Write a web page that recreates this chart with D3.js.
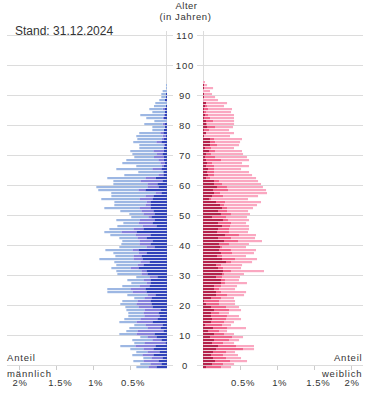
<!DOCTYPE html>
<html><head><meta charset="utf-8">
<script src="https://cdn.jsdelivr.net/npm/d3@7"></script>
<style>
html,body{margin:0;padding:0;background:#fff;}
svg{display:block;font-family:"Liberation Sans",Arial,sans-serif;}
</style></head><body>
<svg id="c" width="375" height="416"></svg>
<script>
const ageTicks = [0,10,20,30,40,50,60,70,80,90,100,110];
const pctTicks = [0.5,1,1.5,2];
const pctLabels = ["0.5%","1%","1.5%","2%"];

const maleDark = [0.144,0.077,0.117,0.063,0.185,0.104,0.185,0.158,0.023,0.077,
0.144,0.171,0.050,0.090,0.063,0.198,0.131,0.104,0.117,0.090,
0.198,0.212,0.225,0.212,0.158,0.279,0.293,0.239,0.225,0.225,
0.131,0.266,0.279,0.387,0.320,0.239,0.333,0.347,0.279,0.387,
0.171,0.225,0.198,0.279,0.225,0.414,0.320,0.144,0.198,0.171,
0.212,0.171,0.185,0.225,0.225,0.225,0.198,0.185,0.077,0.293,
0.117,0.131,0.063,0.149,0.050,0.050,0.077,0.041,0.027,0.041,
0.041,0.063,0.041,0.045,0.027,0.077,0.041,0.014,0.050,0.045,
0.027,0.027,0.000,0.041,0.027,0.027,0.027,0.014,0.000,0.027,
0.014,0.014,0.000,0.000,0.000,0.000];
const maleMid = [0.108,0.149,0.203,0.149,0.149,0.162,0.135,0.270,0.284,0.122,
0.122,0.243,0.351,0.176,0.230,0.216,0.230,0.203,0.203,0.216,
0.189,0.203,0.176,0.095,0.108,0.189,0.203,0.135,0.054,0.095,
0.108,0.081,0.068,0.108,0.081,0.122,0.122,0.108,0.108,0.081,
0.108,0.149,0.176,0.122,0.203,0.203,0.135,0.189,0.189,0.203,
0.041,0.149,0.162,0.149,0.068,0.054,0.176,0.108,0.081,0.095,
0.149,0.135,0.297,0.144,0.068,0.000,0.122,0.027,0.063,0.077,
0.135,0.081,0.144,0.000,0.023,0.068,0.027,0.045,0.041,0.000,
0.000,0.032,0.000,0.018,0.014,0.000,0.032,0.000,0.000,0.000,
0,0,0,0,0,0];
const maleLight = [0.162,0.135,0.135,0.108,0.135,0.149,0.176,0.203,0.135,0.270,
0.095,0.230,0.149,0.243,0.149,0.230,0.216,0.216,0.203,0.243,
0.176,0.216,0.203,0.135,0.270,0.338,0.311,0.230,0.203,0.216,
0.176,0.324,0.338,0.257,0.284,0.351,0.459,0.243,0.338,0.365,
0.365,0.243,0.230,0.243,0.338,0.230,0.324,0.338,0.203,0.311,
0.230,0.189,0.284,0.473,0.419,0.432,0.514,0.459,0.595,0.541,
0.689,0.459,0.365,0.514,0.459,0.338,0.486,0.347,0.514,0.432,
0.266,0.324,0.311,0.329,0.324,0.311,0.333,0.356,0.284,0.153,
0.171,0.248,0.171,0.221,0.320,0.171,0.180,0.162,0.158,0.077,
0.063,0.063,0.059,0.014,0.014,0];

const femDark = [0.041,0.122,0.162,0.135,0.108,0.135,0.176,0.203,0.122,0.149,
0.095,0.149,0.068,0.135,0.027,0.108,0.122,0.108,0.108,0.149,
0.108,0.041,0.014,0.108,0.176,0.176,0.149,0.149,0.243,0.243,
0.176,0.257,0.270,0.203,0.176,0.311,0.257,0.189,0.243,0.216,
0.230,0.216,0.284,0.203,0.297,0.189,0.203,0.257,0.203,0.270,
0.122,0.243,0.203,0.257,0.230,0.176,0.081,0.122,0.149,0.135,
0.189,0.149,0.149,0.041,0.068,0.054,0.068,0.041,0.054,0.041,
0.027,0.041,0.081,0.027,0.095,0.095,0.095,0.014,0.041,0.014,
0.054,0.041,0.041,0.014,0.027,0.014,0.014,0.027,0.041,0.005,
0.014,0.014,0.000,0.014,0.014,0.000];
const femMid = [0.203,0.149,0.203,0.176,0.162,0.176,0.365,0.243,0.149,0.203,
0.297,0.135,0.149,0.189,0.230,0.176,0.189,0.216,0.108,0.203,
0.203,0.176,0.203,0.135,0.149,0.068,0.068,0.095,0.054,0.054,
0.081,0.027,0.108,0.068,0.068,0.068,0.176,0.068,0.149,0.162,
0.027,0.135,0.189,0.176,0.189,0.162,0.149,0.108,0.176,0.068,
0.189,0.135,0.122,0.068,0.054,0.122,0.027,0.149,0.081,0.203,
0.135,0.108,0.068,0.054,0.081,0.095,0.081,0.108,0.068,0.203,
0.135,0.068,0.081,0.081,0.095,0.068,0.054,0.000,0.000,0.068,
0.108,0.014,0.095,0.081,0.041,0.027,0.054,0.027,0.000,0.000,
0,0,0,0,0,0];
const femLight = [0.135,0.149,0.230,0.203,0.203,0.122,0.149,0.243,0.149,0.135,
0.149,0.135,0.108,0.257,0.122,0.135,0.203,0.162,0.135,0.162,
0.176,0.216,0.216,0.176,0.230,0.338,0.216,0.216,0.297,0.189,
0.243,0.270,0.446,0.243,0.284,0.284,0.297,0.324,0.297,0.338,
0.324,0.270,0.324,0.324,0.230,0.257,0.270,0.257,0.203,0.284,
0.284,0.257,0.284,0.351,0.446,0.486,0.500,0.473,0.635,0.514,
0.486,0.527,0.527,0.622,0.514,0.473,0.365,0.473,0.405,0.378,
0.432,0.432,0.365,0.311,0.297,0.338,0.378,0.351,0.378,0.270,
0.243,0.365,0.284,0.324,0.351,0.338,0.324,0.230,0.284,0.198,
0.149,0.108,0.095,0.122,0.041,0.027];

const ages = d3.range(maleDark.length);
const maleColors = ["#3142b9","#8781dc","#9db7e3"];
const femColors = ["#b5234c","#f0648b","#faa8c1"];
const labelShift = [3, 2.6, 4.2, 1];

const svg = d3.select("#c");
const y = d3.scaleLinear().domain([0,110]).range([366,36]);
const xM = d3.scaleLinear().domain([0,2]).range([167,19]);
const xF = d3.scaleLinear().domain([0,2]).range([203,351]);
const grid = "#dcdcdc";
const txt = "#333";

const g = svg.append("g");
ageTicks.forEach(a=>{
  const yy = Math.round(y(a))-0.5;
  g.append("line").attr("x1",7).attr("x2",173).attr("y1",yy).attr("y2",yy).attr("stroke",grid);
  g.append("line").attr("x1",197).attr("x2",363).attr("y1",yy).attr("y2",yy).attr("stroke",grid);
});
g.append("line").attr("x1",166.5).attr("x2",166.5).attr("y1",31).attr("y2",366).attr("stroke",grid);
g.append("line").attr("x1",203.5).attr("x2",203.5).attr("y1",31).attr("y2",366).attr("stroke",grid);

function stackRows(a,b,c){
  const rows = ages.map(i=>({age:i,d:a[i],m:b[i],l:c[i]}));
  return d3.stack().keys(["d","m","l"])(rows);
}
const mS = stackRows(maleDark,maleMid,maleLight);
const fS = stackRows(femDark,femMid,femLight);

svg.append("g").selectAll("g").data(mS).join("g").attr("fill",(d,i)=>maleColors[i])
  .selectAll("rect").data(d=>d).join("rect")
  .attr("x",d=>xM(d[1])).attr("width",d=>Math.max(0,xM(d[0])-xM(d[1])))
  .attr("y",d=>y(d.data.age)).attr("height",2.2);
svg.append("g").selectAll("g").data(fS).join("g").attr("fill",(d,i)=>femColors[i])
  .selectAll("rect").data(d=>d).join("rect")
  .attr("x",d=>xF(d[0])).attr("width",d=>Math.max(0,xF(d[1])-xF(d[0])))
  .attr("y",d=>y(d.data.age)).attr("height",2.2);

svg.append("g").selectAll("text").data(ageTicks).join("text")
  .attr("x",185).attr("y",a=>y(a)+3.3).attr("text-anchor","middle")
  .attr("font-size",9.5).attr("letter-spacing",0.8).attr("fill",txt).text(a=>a);

const xt = svg.append("g");
pctTicks.forEach((p,i)=>{
  [xM(p),xF(p)].forEach(xx=>{
    const px = Math.round(xx)+0.5;
    xt.append("line").attr("x1",px).attr("x2",px).attr("y1",366).attr("y2",370).attr("stroke","#ccc");
    xt.append("text").attr("x",xx+labelShift[i]).attr("y",386).attr("text-anchor","middle")
      .attr("font-size",9.5).attr("fill",txt).attr("letter-spacing",0.6).text(pctLabels[i]);
  });
});

svg.append("text").attr("x",15).attr("y",35).attr("font-size",12).attr("fill",txt).text("Stand: 31.12.2024");
svg.append("text").attr("x",186.5).attr("y",9.3).attr("text-anchor","middle").attr("font-size",9.5).attr("fill",txt).attr("letter-spacing",0.5).text("Alter");
svg.append("text").attr("x",185.5).attr("y",20).attr("text-anchor","middle").attr("font-size",9.5).attr("fill",txt).attr("letter-spacing",0.6).text("(in Jahren)");
svg.append("text").attr("x",7).attr("y",361).attr("font-size",9.5).attr("fill",txt).attr("letter-spacing",0.8).text("Anteil");
svg.append("text").attr("x",7).attr("y",376.5).attr("font-size",9.5).attr("fill",txt).attr("letter-spacing",0.85).text("männlich");
svg.append("text").attr("x",362.5).attr("y",361).attr("text-anchor","end").attr("font-size",9.5).attr("fill",txt).attr("letter-spacing",0.8).text("Anteil");
svg.append("text").attr("x",362.5).attr("y",376.5).attr("text-anchor","end").attr("font-size",9.5).attr("fill",txt).attr("letter-spacing",0.85).text("weiblich");
</script>
</body></html>
